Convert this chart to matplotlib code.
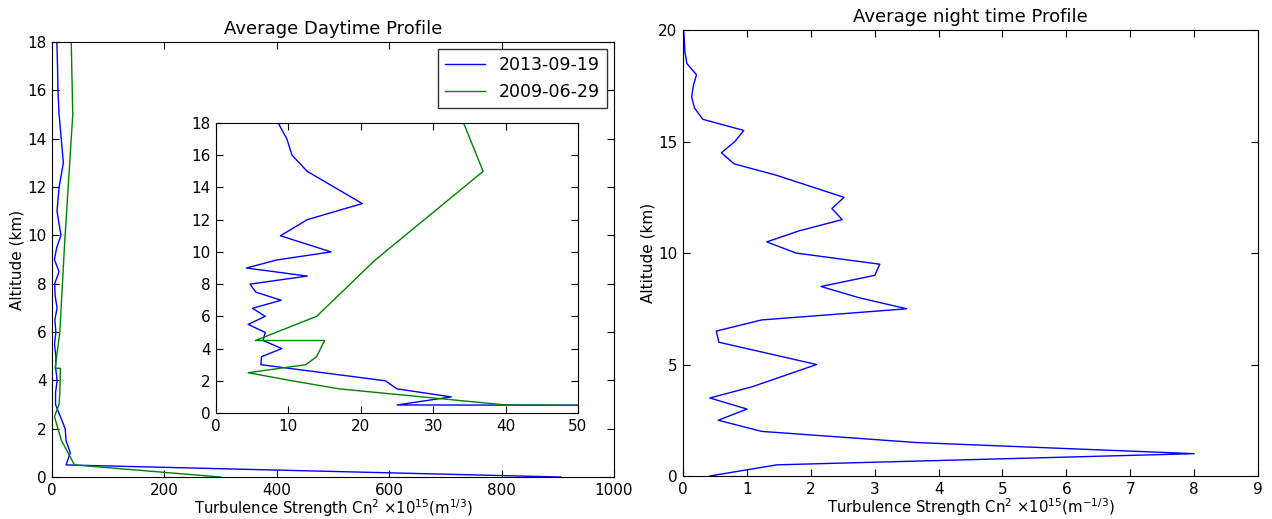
import matplotlib
matplotlib.use("Agg")
from matplotlib import pyplot as plt

# daytime profile, 2013-09-19 (Cn2 x1e15, altitude km)
day13_cn2 = [905, 25, 32.5, 25, 23.4, 6.2, 6.3, 9.1, 6.5, 6.8, 4.45, 6.8, 5.05, 9.0, 5.5,
             4.7, 12.6, 4.2, 8.4, 15.9, 8.9, 12.6, 20.2, 12.6, 10.5, 9.8, 8.6]
day13_alt = [0.0, 0.5, 1.0, 1.5, 2.0, 3.0, 3.5, 4.0, 4.5, 5.0, 5.5, 6.0, 6.5, 7.0, 7.5,
             8.0, 8.5, 9.0, 9.5, 10.0, 11.0, 12.0, 13.0, 15.0, 16.0, 17.0, 18.0]

# daytime profile, 2009-06-29
day09_cn2 = [300, 40, 17.0, 10.5, 4.45, 12.4, 13.9, 15.0, 5.45, 13.9, 22.0, 36.9, 34.2]
day09_alt = [0.0, 0.5, 1.5, 2.0, 2.5, 3.0, 3.5, 4.5, 4.5, 6.0, 9.5, 15.0, 18.0]

# night time profile
night_cn2 = [0.42, 1.47, 8.0, 3.65, 1.23, 0.55, 1.0, 0.42, 1.08, 2.09, 0.56, 0.52, 1.23,
             3.5, 2.75, 2.16, 3.0, 3.08, 1.77, 1.31, 1.82, 2.49, 2.33, 2.52, 1.45, 0.8,
             0.6, 0.81, 0.95, 0.31, 0.18, 0.135, 0.16, 0.21, 0.06, 0.03, 0.02, 0.01]
night_alt = [0.0, 0.5, 1.0, 1.5, 2.0, 2.5, 3.0, 3.5, 4.0, 5.0, 6.0, 6.5, 7.0,
             7.5, 8.0, 8.5, 9.0, 9.5, 10.0, 10.5, 11.0, 11.5, 12.0, 12.5, 13.5, 14.0,
             14.5, 15.0, 15.5, 16.0, 16.5, 17.0, 17.5, 18.0, 18.5, 19.0, 19.5, 20.0]

labels = ['2013-09-19', '2009-06-29']
xlabel_day = r'Turbulence Strength Cn$^2$ $\times10^{15}$(m$^{1/3}$)'
xlabel_night = r'Turbulence Strength Cn$^2$ $\times10^{15}$(m$^{-1/3}$)'

plt.rcParams['font.size'] = 11


def style(ax):
    ax.tick_params(direction='in', top=True, right=True, length=5, labelsize=11, pad=4)


fig = plt.figure(figsize=(12.72, 5.19), dpi=100)

ax1 = fig.add_axes([0.0409, 0.0809, 0.4418, 0.838])
ax1.plot(day13_cn2, day13_alt, color='b', lw=1, label=labels[0])
ax1.plot(day09_cn2, day09_alt, color='g', lw=1, label=labels[1])
ax1.set_xlim(0, 1000)
ax1.set_ylim(0, 18)
ax1.set_yticks(range(0, 19, 2))
ax1.set_title('Average Daytime Profile', fontsize=13, pad=6)
ax1.set_xlabel(xlabel_day, fontsize=10.7, labelpad=0)
ax1.set_ylabel('Altitude (km)', fontsize=11, labelpad=2)
style(ax1)
leg = ax1.legend(loc='upper right', fontsize=12.5, fancybox=False, handlelength=2.3,
                 borderaxespad=0.4)
leg.get_frame().set_edgecolor('black')
leg.get_frame().set_linewidth(1.0)

ins = fig.add_axes([0.1698, 0.2042, 0.2846, 0.5588])
ins.plot(day13_cn2, day13_alt, color='b', lw=1)
ins.plot(day09_cn2, day09_alt, color='g', lw=1)
ins.set_xlim(0, 50)
ins.set_ylim(0, 18)
ins.set_yticks(range(0, 19, 2))
style(ins)

ax2 = fig.add_axes([0.537, 0.0829, 0.452, 0.859])
ax2.plot(night_cn2, night_alt, color='b', lw=1)
ax2.set_xlim(0, 9)
ax2.set_ylim(0, 20)
ax2.set_yticks(range(0, 21, 5))
ax2.set_title('Average night time Profile', fontsize=13, pad=6)
ax2.set_xlabel(xlabel_night, fontsize=10.7, labelpad=0)
ax2.set_ylabel('Altitude (km)', fontsize=11, labelpad=2)
style(ax2)

fig.savefig('out.png', dpi=100)
